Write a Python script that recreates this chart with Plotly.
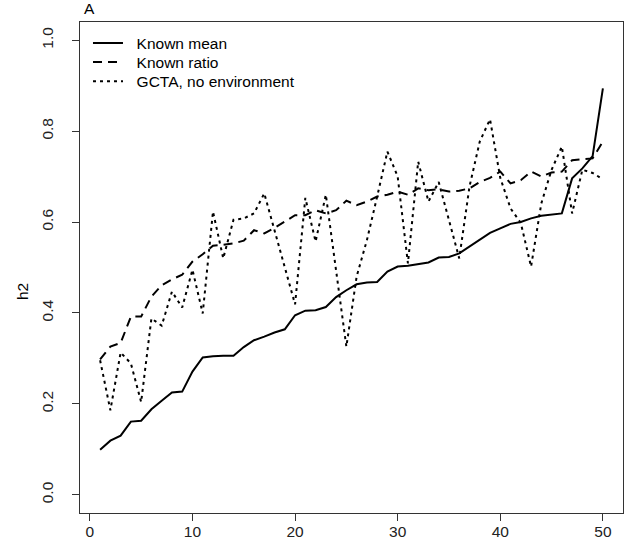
import plotly.graph_objects as go

x_vals = list(range(1, 51))

known_mean = [0.099, 0.119, 0.130, 0.161, 0.163, 0.188, 0.207, 0.225, 0.227, 0.271,
              0.302, 0.305, 0.306, 0.306, 0.325, 0.340, 0.348, 0.357, 0.364, 0.395,
              0.405, 0.406, 0.413, 0.435, 0.450, 0.463, 0.467, 0.468, 0.491, 0.502,
              0.504, 0.508, 0.511, 0.522, 0.523, 0.531, 0.546, 0.562, 0.576, 0.586,
              0.596, 0.600, 0.608, 0.614, 0.616, 0.619, 0.696, 0.718, 0.745, 0.894]

known_ratio = [0.298, 0.326, 0.334, 0.392, 0.392, 0.436, 0.461, 0.474, 0.484, 0.513,
               0.529, 0.548, 0.550, 0.553, 0.559, 0.582, 0.575, 0.587, 0.601, 0.615,
               0.615, 0.626, 0.619, 0.626, 0.647, 0.637, 0.645, 0.656, 0.660, 0.667,
               0.660, 0.674, 0.670, 0.672, 0.667, 0.669, 0.674, 0.688, 0.697, 0.711,
               0.685, 0.692, 0.711, 0.700, 0.709, 0.711, 0.736, 0.738, 0.740, 0.777]

gcta = [0.296, 0.186, 0.313, 0.289, 0.204, 0.388, 0.372, 0.447, 0.412, 0.495,
        0.399, 0.623, 0.520, 0.605, 0.608, 0.619, 0.663, 0.582, 0.502, 0.419,
        0.653, 0.557, 0.660, 0.492, 0.326, 0.480, 0.560, 0.656, 0.755, 0.700,
        0.509, 0.733, 0.645, 0.688, 0.605, 0.520, 0.678, 0.777, 0.826, 0.697,
        0.630, 0.598, 0.502, 0.641, 0.715, 0.766, 0.619, 0.715, 0.708, 0.694]

series_names = ["Known mean", "Known ratio", "GCTA, no environment"]
x_ticks = [0, 10, 20, 30, 40, 50]
y_ticks = [0.0, 0.2, 0.4, 0.6, 0.8, 1.0]
y_tick_text = ["0.0", "0.2", "0.4", "0.6", "0.8", "1.0"]

FONT = "Liberation Sans, Arial, Helvetica, sans-serif"
FS = 15.5
PAD = "\u00a0\u00a0"

fig = go.Figure()
fig.add_trace(go.Scatter(x=x_vals, y=known_mean, mode="lines", name=PAD + series_names[0],
                         legend="legend",
                         line=dict(color="black", width=2, dash="solid")))
fig.add_trace(go.Scatter(x=x_vals, y=known_ratio, mode="lines", name=PAD + series_names[1],
                         legend="legend2",
                         line=dict(color="black", width=2, dash="9px,6px")))
fig.add_trace(go.Scatter(x=x_vals, y=gcta, mode="lines", name=PAD + series_names[2],
                         legend="legend3",
                         line=dict(color="black", width=2, dash="3px,4px")))

def leg(ypix):
    return dict(x=0.0147, y=1 - (ypix - 22) / 491, xanchor="left", yanchor="middle",
                bgcolor="rgba(0,0,0,0)", borderwidth=0,
                font=dict(family=FONT, size=FS, color="black"), itemwidth=30)

fig.update_layout(
    width=624, height=550,
    margin=dict(l=80, r=1, t=22, b=37),
    paper_bgcolor="white", plot_bgcolor="white",
    font=dict(family=FONT, size=FS, color="black"),
    showlegend=True,
    legend=leg(43.3), legend2=leg(62.5), legend3=leg(81.7),
    xaxis=dict(range=[-0.96, 51.96], tickvals=x_ticks, ticks="outside", ticklen=7,
               ticklabelstandoff=-3,
               tickcolor="#333", showline=True, linecolor="#333", linewidth=1,
               mirror=True, showgrid=False, zeroline=False,
               tickfont=dict(family=FONT, size=FS, color="#222")),
    yaxis=dict(range=[-0.04, 1.04], tickvals=y_ticks, ticktext=y_tick_text,
               ticks="outside", ticklen=7, tickcolor="#333", tickangle=-90,
               ticklabelstandoff=13,
               showline=True, linecolor="#333", linewidth=1, mirror=True,
               showgrid=False, zeroline=False,
               tickfont=dict(family=FONT, size=FS, color="#222")),
    annotations=[
        dict(text="A", xref="paper", yref="paper", x=0, y=1, xanchor="left",
             yanchor="bottom", xshift=2, yshift=3, showarrow=False,
             font=dict(family=FONT, size=FS, color="black")),
        dict(text="h2", xref="paper", yref="paper", x=(22 - 80) / 543, y=0.45,
             xanchor="center", yanchor="middle", textangle=-90, showarrow=False,
             font=dict(family=FONT, size=FS, color="black")),
    ],
)

fig.write_html("out.html")
